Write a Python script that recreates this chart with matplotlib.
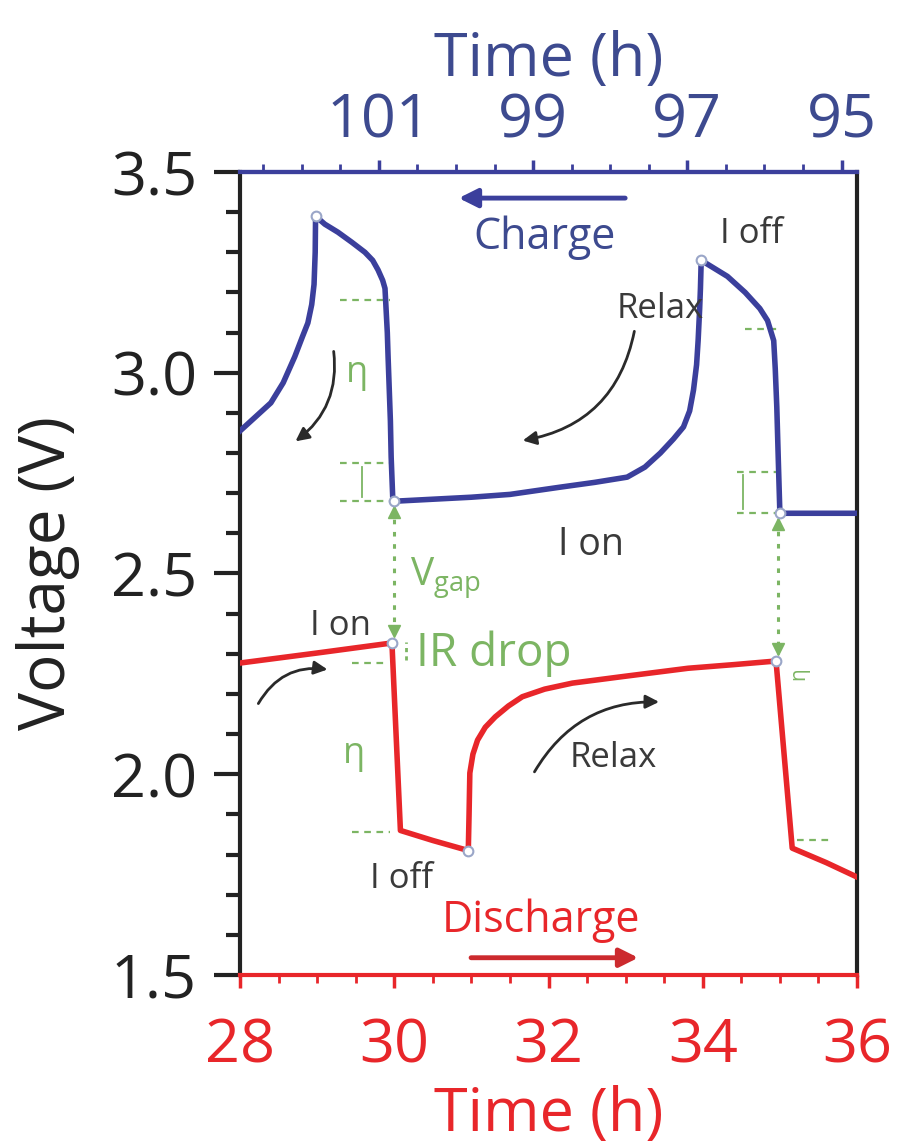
import matplotlib
matplotlib.use('Agg')
import matplotlib.pyplot as plt
from matplotlib.patches import FancyArrowPatch
from matplotlib.ticker import MultipleLocator, FixedLocator

plt.rcParams['font.family'] = ['Open Sans', 'DejaVu Sans']

# ---------------- data ----------------
charge_time = [28.0, 28.2, 28.4, 28.56, 28.71, 28.81, 28.88, 28.93, 28.96, 28.975,
               28.98, 29.1, 29.27, 29.45, 29.62, 29.72, 29.79, 29.85, 29.88, 29.91,
               29.92, 29.95, 29.96, 29.98, 30.0, 30.5, 31.0, 31.5, 32.15, 32.6,
               33.02, 33.25, 33.45, 33.62, 33.75, 33.83, 33.88, 33.92, 33.94, 33.96,
               33.97, 33.98, 34.15, 34.32, 34.55, 34.74, 34.84, 34.92, 34.94, 34.96,
               34.98, 35.0, 35.5, 36.0]
charge_voltage = [2.855, 2.89, 2.925, 2.975, 3.04, 3.09, 3.124, 3.17, 3.22, 3.30,
                  3.39, 3.37, 3.35, 3.325, 3.30, 3.28, 3.256, 3.23, 3.21, 3.10,
                  3.04, 2.88, 2.79, 2.69, 2.68, 2.685, 2.69, 2.697, 2.715, 2.727,
                  2.74, 2.765, 2.80, 2.835, 2.865, 2.905, 2.957, 3.02, 3.08, 3.16,
                  3.21, 3.28, 3.26, 3.24, 3.20, 3.16, 3.13, 3.08, 3.01, 2.915,
                  2.78, 2.65, 2.65, 2.65]
discharge_time = [28.0, 29.0, 29.97, 30.08, 30.5, 30.96, 30.97, 30.98, 31.02, 31.08,
                  31.18, 31.31, 31.48, 31.66, 31.95, 32.31, 32.95, 33.81, 34.4, 34.95,
                  35.16, 35.6, 36.0]
discharge_voltage = [2.277, 2.302, 2.327, 1.86, 1.835, 1.81, 1.90, 2.003, 2.05, 2.085,
                     2.117, 2.143, 2.17, 2.193, 2.212, 2.227, 2.243, 2.264, 2.273, 2.282,
                     1.816, 1.78, 1.744]
charge_marker_time = [28.98, 30.0, 33.98, 35.0]
charge_marker_voltage = [3.39, 2.68, 3.28, 2.65]
discharge_marker_time = [29.97, 30.96, 34.95]
discharge_marker_voltage = [2.327, 1.81, 2.282]
bottom_ticks = [28, 30, 32, 34, 36]
top_ticks = [101, 99, 97, 95]
y_ticks = [1.5, 2.0, 2.5, 3.0, 3.5]
time_offset = 130.8   # charge time = offset - discharge time

# ---------------- style ----------------
BLUE = '#3b3f9c'
BLUE_TXT = '#3d4a8f'
RED = '#e8262a'
GREEN = '#7cb563'
GRAY = '#3a3a3a'
MK = '#9aa6c8'

fig = plt.figure(figsize=(8.97, 11.44), dpi=100)
ax = fig.add_axes([0.26756, 0.14773, 0.68785, 0.70192])

ax.plot(charge_time, charge_voltage, color=BLUE, lw=4, solid_joinstyle='round', zorder=3)
ax.plot(discharge_time, discharge_voltage, color=RED, lw=4, solid_joinstyle='round', zorder=3)
ax.plot(charge_marker_time, charge_marker_voltage, 'o', ms=7, mfc='white', mec=MK, mew=1.5, zorder=5)
ax.plot(discharge_marker_time, discharge_marker_voltage, 'o', ms=7, mfc='white', mec=MK, mew=1.5, zorder=5)

ax.set_xlim(28, 36)
ax.set_ylim(1.5, 3.5)

# spines
for s in ax.spines.values():
    s.set_linewidth(3)
ax.spines['left'].set_color('#222222')
ax.spines['right'].set_color('#222222')
ax.spines['top'].set_color(BLUE)
ax.spines['bottom'].set_color(RED)

ax.xaxis.set_major_locator(FixedLocator(bottom_ticks))
ax.xaxis.set_minor_locator(MultipleLocator(0.5))
ax.yaxis.set_major_locator(FixedLocator(y_ticks))
ax.yaxis.set_minor_locator(MultipleLocator(0.1))
ax.set_yticklabels([f'{v:.1f}' for v in y_ticks])

ax.tick_params(axis='y', which='major', direction='out', length=19, width=3,
               color='#222222', labelsize=44, labelcolor='#222222', pad=12)
ax.tick_params(axis='y', which='minor', direction='out', length=10, width=3, color='#222222')
ax.tick_params(axis='x', which='major', direction='out', length=9, width=2.5,
               color=RED, labelsize=44, labelcolor=RED, pad=21)
ax.tick_params(axis='x', which='minor', direction='out', length=6, width=2, color=RED)

ax.set_xlabel('Time (h)', fontsize=44, color=RED, labelpad=6)
ax.set_ylabel('Voltage (V)', fontsize=46, color='#222222', labelpad=22)

sec = ax.secondary_xaxis('top', functions=(lambda t: time_offset - t, lambda s: time_offset - s))
sec.xaxis.set_major_locator(FixedLocator(top_ticks))
sec.xaxis.set_minor_locator(MultipleLocator(0.5))
sec.tick_params(axis='x', which='major', direction='out', length=9, width=2.5,
                color=BLUE, labelsize=44, labelcolor=BLUE_TXT, pad=6)
sec.tick_params(axis='x', which='minor', direction='out', length=6, width=2, color=BLUE)
sec.spines['top'].set_color(BLUE)
sec.spines['top'].set_linewidth(3)
sec.set_xlabel('Time (h)', fontsize=44, color=BLUE_TXT, labelpad=11)

# ---------------- green annotations ----------------
dash = (0, (3, 2.5))
for (x0, x1, y) in [(29.3, 29.95, 3.18), (29.3, 29.95, 2.775), (29.3, 29.95, 2.68),
                    (34.55, 35.0, 3.11), (34.45, 34.95, 2.753), (34.45, 34.95, 2.65),
                    (29.45, 29.92, 2.277), (29.45, 29.95, 1.856), (35.22, 35.65, 1.836)]:
    ax.plot([x0, x1], [y, y], ls=dash, color=GREEN, lw=1.6, zorder=2)
ax.plot([29.58, 29.58], [2.69, 2.765], color=GREEN, lw=1.3, zorder=2)
ax.plot([34.52, 34.52], [2.66, 2.745], color=GREEN, lw=1.3, zorder=2)

for xg, ytop, ybot in [(30.0, 2.665, 2.345), (34.98, 2.635, 2.30)]:
    ax.plot([xg, xg], [ytop, ybot], ls=(0, (1.5, 2.5)), color=GREEN, lw=2.2, zorder=2)
    ax.plot(xg, ytop - 0.012, marker='^', color=GREEN, ms=8, zorder=4)
    ax.plot(xg, ybot + 0.012, marker='v', color=GREEN, ms=8, zorder=4)

ax.text(30.2, 2.49, r'V$_{\mathregular{gap}}$', fontsize=28, color=GREEN, ha='left', va='center')
ax.plot([30.15, 30.15], [2.285, 2.33], ls=(0, (1.5, 1.5)), color=GREEN, lw=2, zorder=2)
ax.text(30.28, 2.30, 'IR drop', fontsize=33, color=GREEN, ha='left', va='center')
ax.text(29.52, 3.0, 'η', fontsize=26, color=GREEN, ha='center', va='center')
ax.text(29.48, 2.05, 'η', fontsize=26, color=GREEN, ha='center', va='center')
ax.text(35.25, 2.25, 'η', fontsize=15, color=GREEN, ha='center', va='center', rotation=90)

# ---------------- texts ----------------
ax.text(31.95, 3.335, 'Charge', fontsize=31, color=BLUE_TXT, ha='center', va='center')
ax.annotate('', xy=(30.8, 3.435), xytext=(33.03, 3.435),
            arrowprops=dict(arrowstyle='-|>', color=BLUE, lw=3.5, mutation_scale=28))
ax.text(31.9, 1.635, 'Discharge', fontsize=31, color=RED, ha='center', va='center')
ax.annotate('', xy=(33.2, 1.543), xytext=(30.96, 1.543),
            arrowprops=dict(arrowstyle='-|>', color='#cc2a2e', lw=3.5, mutation_scale=28))

ax.text(34.22, 3.345, 'I off', fontsize=25, color=GRAY, ha='left', va='center')
ax.text(33.45, 3.16, 'Relax', fontsize=25, color=GRAY, ha='center', va='center')
ax.text(32.55, 2.57, 'I on', fontsize=27, color=GRAY, ha='center', va='center')
ax.text(29.3, 2.37, 'I on', fontsize=25, color=GRAY, ha='center', va='center')
ax.text(32.28, 2.04, 'Relax', fontsize=25, color=GRAY, ha='left', va='center')
ax.text(30.1, 1.74, 'I off', fontsize=25, color=GRAY, ha='center', va='center')

# curved arrows
for (p0, p1, rad) in [((29.21, 3.06), (28.69, 2.825), -0.3),
                      ((33.12, 3.11), (31.63, 2.83), -0.35),
                      ((28.22, 2.17), (29.17, 2.26), -0.35),
                      ((31.8, 2.0), (33.47, 2.18), -0.3)]:
    arr = FancyArrowPatch(p0, p1, connectionstyle=f'arc3,rad={rad}',
                          arrowstyle='-|>', mutation_scale=20, color='#2a2a2a', lw=2)
    ax.add_patch(arr)

fig.savefig('out.png', dpi=100)
